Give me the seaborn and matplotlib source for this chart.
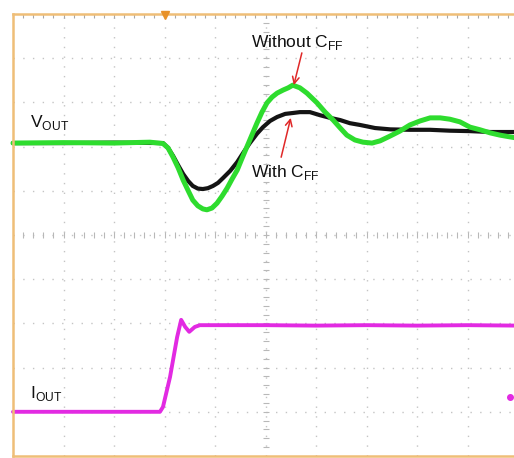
import numpy as np
import pandas as pd
import seaborn as sns
import matplotlib.pyplot as plt

# --- Data (screen divisions: x 0..10, y 0..10 from bottom) ---
green_t = [0, 1.0, 2.0, 2.71, 2.97, 3.07, 3.17, 3.27, 3.37, 3.47, 3.56, 3.66, 3.76,
           3.84, 3.94, 4.04, 4.14, 4.24, 4.34, 4.44, 4.53, 4.63, 4.73, 4.83, 4.93,
           5.03, 5.13, 5.23, 5.35, 5.45, 5.54, 5.68, 5.82, 6.02, 6.18, 6.34, 6.48,
           6.61, 6.77, 6.93, 7.11, 7.27, 7.47, 7.66, 7.86, 8.06, 8.26, 8.46, 8.65,
           8.85, 9.05, 9.25, 9.45, 9.64, 9.84, 10.0]
green_v = [7.08, 7.09, 7.08, 7.10, 7.07, 6.97, 6.76, 6.52, 6.24, 6.00, 5.79, 5.66, 5.59,
           5.57, 5.61, 5.72, 5.88, 6.06, 6.27, 6.47, 6.72, 6.99, 7.26, 7.53, 7.78,
           7.99, 8.12, 8.21, 8.28, 8.33, 8.39, 8.33, 8.21, 7.99, 7.78, 7.60, 7.42,
           7.26, 7.15, 7.10, 7.08, 7.13, 7.24, 7.35, 7.49, 7.58, 7.65, 7.65, 7.62,
           7.56, 7.44, 7.38, 7.31, 7.26, 7.22, 7.19]

black_t = [0, 1.0, 2.0, 2.97, 3.07, 3.17, 3.27, 3.37, 3.47, 3.56, 3.66, 3.76, 3.86,
           3.96, 4.06, 4.16, 4.30, 4.44, 4.57, 4.69, 4.83, 4.95, 5.09, 5.23, 5.39,
           5.54, 5.68, 5.88, 6.08, 6.28, 6.48, 6.67, 6.87, 7.17, 7.47, 7.86, 8.26,
           8.65, 9.05, 9.45, 10.0]
black_v = [7.08, 7.08, 7.09, 7.08, 6.97, 6.79, 6.58, 6.38, 6.22, 6.11, 6.05, 6.04, 6.06,
           6.11, 6.18, 6.29, 6.45, 6.65, 6.88, 7.08, 7.29, 7.44, 7.58, 7.67, 7.74,
           7.76, 7.78, 7.78, 7.71, 7.65, 7.60, 7.53, 7.49, 7.42, 7.39, 7.38, 7.38,
           7.36, 7.35, 7.33, 7.33]

iout_t = [0, 1, 2, 2.91, 2.97, 3.11, 3.25, 3.33, 3.41, 3.49, 3.60, 3.70, 4.0, 5, 6, 7, 8, 9, 10]
iout_v = [1.00, 1.00, 1.00, 1.00, 1.11, 1.79, 2.69, 3.08, 2.92, 2.81, 2.92, 2.96, 2.96,
          2.96, 2.95, 2.96, 2.95, 2.96, 2.95]

vout_df = pd.concat([
    pd.DataFrame({'t': black_t, 'v': black_v, 'trace': 'With CFF'}),
    pd.DataFrame({'t': green_t, 'v': green_v, 'trace': 'Without CFF'}),
])
iout_df = pd.DataFrame({'t': iout_t, 'v': iout_v})

sns.set_style('white')
plt.rcParams['font.family'] = ['Liberation Sans', 'DejaVu Sans']
plt.rcParams['mathtext.fontset'] = 'custom'
plt.rcParams['mathtext.rm'] = 'Liberation Sans'

fig = plt.figure(figsize=(5.14, 4.58), dpi=100)
ax = fig.add_axes([13 / 514, 2 / 458, 505 / 514, 442 / 458])
ax.set_xlim(0, 10)
ax.set_ylim(0, 10)

# graticule
grid_kw = dict(color='#C4C4C4', lw=1.0, linestyle=(0, (1, 6)), zorder=0)
for k in range(1, 10):
    ax.axvline(k, **grid_kw)
    ax.axhline(k, **grid_kw)
minor = np.arange(0, 10.01, 0.2)
ax.plot(minor, np.full_like(minor, 5), ls='none', marker='|', ms=4, mew=0.8, color='#B8B8B8', zorder=0)
ax.plot(np.full_like(minor, 5), minor, ls='none', marker='_', ms=4, mew=0.8, color='#B8B8B8', zorder=0)

ax.set_xticks(range(11))
ax.set_yticks(range(11))
ax.set_xticks(minor, minor=True)
ax.set_yticks(minor, minor=True)
ax.tick_params(which='both', direction='in', length=3, width=0.8, color='#A8A8A8',
               top=True, right=True, labelbottom=False, labelleft=False)
for s in ax.spines.values():
    s.set_color('#EFBE78')
    s.set_linewidth(1.8)

# traces
sns.lineplot(data=vout_df, x='t', y='v', hue='trace', palette={'With CFF': '#141414', 'Without CFF': '#2EDC2E'},
             hue_order=['With CFF', 'Without CFF'], size='trace', sizes={'With CFF': 3.0, 'Without CFF': 3.6},
             legend=False, ax=ax, sort=False, clip_on=False)
sns.lineplot(data=iout_df, x='t', y='v', color='#E22AE2', lw=2.8, ax=ax, sort=False, clip_on=False)

# channel / trigger markers
ax.plot([3.0], [9.97], marker='v', ms=6, color='#E8922A', clip_on=False, zorder=5)
ax.plot([9.84], [1.33], marker='o', ms=4, color='#E22AE2', zorder=5)

# annotations
txt = dict(fontsize=12.5, ha='left', va='baseline', color='#111111')
ax.text(0.34, 7.44, r'V$_{\mathrm{OUT}}$', **txt)
ax.text(0.34, 1.31, r'I$_{\mathrm{OUT}}$', **txt)
ax.text(4.71, 9.26, r'Without C$_{\mathrm{FF}}$', **txt)
ax.text(4.71, 6.31, r'With C$_{\mathrm{FF}}$', **txt)
arrow = dict(arrowstyle='->', color='#E02828', lw=1.1, mutation_scale=12, shrinkA=0, shrinkB=0)
ax.annotate('', xy=(5.56, 8.39), xytext=(5.72, 9.12), arrowprops=arrow)
ax.annotate('', xy=(5.50, 7.65), xytext=(5.31, 6.76), arrowprops=arrow)

ax.set_xlabel('')
ax.set_ylabel('')
fig.savefig('out.png', dpi=100)
